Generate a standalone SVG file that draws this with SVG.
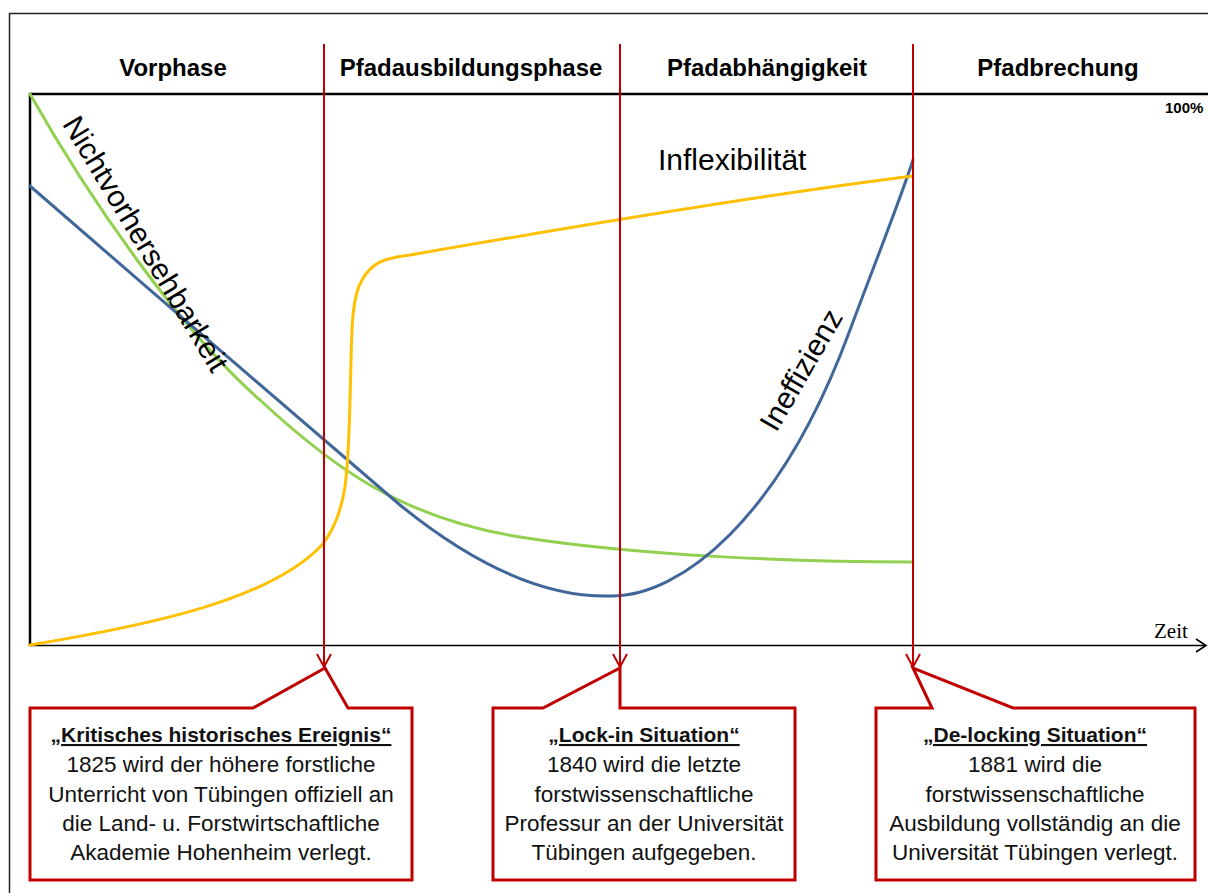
<svg xmlns="http://www.w3.org/2000/svg" width="1208" height="893" viewBox="0 0 1208 893">
  <defs>
    <style>
      .frame { fill: none; stroke: #222; stroke-width: 1.5; }
      .axis { fill: none; stroke: #000; }
      .marker { fill: none; stroke: #C00000; stroke-width: 2; }
      .callout { fill: #fff; stroke: #C00000; stroke-width: 3; stroke-linejoin: miter; }
      .curve { fill: none; stroke-width: 3; stroke-linecap: round; }
      .phase { font-family: "Liberation Sans", Arial, sans-serif; font-weight: bold; font-size: 24px; fill: #000; text-anchor: middle; }
      .label { font-family: "Liberation Sans", Arial, sans-serif; font-size: 30px; fill: #000; }
      .ctitle { font-family: "Liberation Sans", Arial, sans-serif; font-weight: bold; font-size: 21px; fill: #111; text-anchor: middle; text-decoration: underline; }
      .cbody { font-family: "Liberation Sans", Arial, sans-serif; font-size: 22.5px; fill: #111; text-anchor: middle; }
    </style>
  </defs>

  <rect width="1208" height="893" fill="#fff"/>

  <!-- outer frame -->
  <path class="frame" d="M9.5,893 L9.5,13.5 L1208,13.5"/>

  <!-- plot area axes -->
  <g id="axes">
    <path class="axis" stroke-width="2.5" d="M1208,94 L30,94 L30,646"/>
    <path class="axis" stroke-width="1.6" d="M30,645.5 L1206,645.5"/>
    <path class="axis" stroke-width="1.6" d="M1196,639 L1206,645.5 L1196,652"/>
    <text x="1154" y="638" font-family="Liberation Serif, serif" font-size="21" fill="#000">Zeit</text>
    <text x="1165" y="113" font-family="Liberation Sans, Arial, sans-serif" font-size="15" font-weight="bold" fill="#000">100%</text>
  </g>

  <!-- phase headings -->
  <g id="phases">
    <text class="phase" x="173" y="76">Vorphase</text>
    <text class="phase" x="471" y="76">Pfadausbildungsphase</text>
    <text class="phase" x="767" y="76">Pfadabhängigkeit</text>
    <text class="phase" x="1058" y="76">Pfadbrechung</text>
  </g>

  <!-- curves -->
  <g id="curves">
    <path id="nichtvorhersehbarkeit" class="curve" stroke="#92D050"
          d="M30,94 C90,200 180,330 260,400 C330,465 400,518 520,537 C640,556 800,562 913,562"/>
    <path id="ineffizienz" class="curve" stroke="#41679A"
          d="M30,186 C150,290 300,420 400,505 C480,570 550,598 612,596 C680,596 780,520 850,330 C880,250 900,200 913,160"/>
    <path id="inflexibilitaet" class="curve" stroke="#FFC000"
          d="M30,645 C150,625 270,600 322,545 C348,512 348,470 350,400 C352,340 350,300 362,280 C372,262 385,258 410,255 C600,222 800,190 913,176"/>
  </g>

  <!-- curve labels -->
  <g id="curve-labels">
    <text class="label" text-anchor="middle" transform="translate(137,249) rotate(59)">Nichtvorhersehbarkeit</text>
    <text class="label" text-anchor="middle" transform="translate(810,375) rotate(-60)">Ineffizienz</text>
    <text class="label" x="658" y="170">Inflexibilität</text>
  </g>

  <!-- phase boundaries -->
  <g id="connectors">
    <path class="marker" d="M324,44 L324,667 M317,654 L324,667 L331,654"/>
    <path class="marker" d="M620,44 L620,667 M613,654 L620,667 L627,654"/>
    <path class="marker" d="M913,44 L913,667 M906,654 L913,667 L920,654"/>
  </g>

  <!-- event callouts -->
  <g id="event-1825">
    <path class="callout" d="M30,708 L253,708 L325,668 L348,708 L412,708 L412,880 L30,880 Z"/>
    <text class="ctitle" x="221" y="742">„Kritisches historisches Ereignis“</text>
    <text class="cbody" x="221" y="772">1825 wird der höhere forstliche</text>
    <text class="cbody" x="221" y="802">Unterricht von Tübingen offiziell an</text>
    <text class="cbody" x="221" y="831">die Land- u. Forstwirtschaftliche</text>
    <text class="cbody" x="221" y="860">Akademie Hohenheim verlegt.</text>
  </g>

  <g id="event-1840">
    <path class="callout" d="M493,708 L543,708 L620,668 L620,708 L795,708 L795,880 L493,880 Z"/>
    <text class="ctitle" x="644" y="742">„Lock-in Situation“</text>
    <text class="cbody" x="644" y="772">1840 wird die letzte</text>
    <text class="cbody" x="644" y="802">forstwissenschaftliche</text>
    <text class="cbody" x="644" y="831">Professur an der Universität</text>
    <text class="cbody" x="644" y="860">Tübingen aufgegeben.</text>
  </g>

  <g id="event-1881">
    <path class="callout" d="M876,708 L932,708 L913,668 L1013,708 L1195,708 L1195,880 L876,880 Z"/>
    <text class="ctitle" x="1035" y="742">„De-locking Situation“</text>
    <text class="cbody" x="1035" y="772">1881 wird die</text>
    <text class="cbody" x="1035" y="802">forstwissenschaftliche</text>
    <text class="cbody" x="1035" y="831">Ausbildung vollständig an die</text>
    <text class="cbody" x="1035" y="860">Universität Tübingen verlegt.</text>
  </g>
</svg>
